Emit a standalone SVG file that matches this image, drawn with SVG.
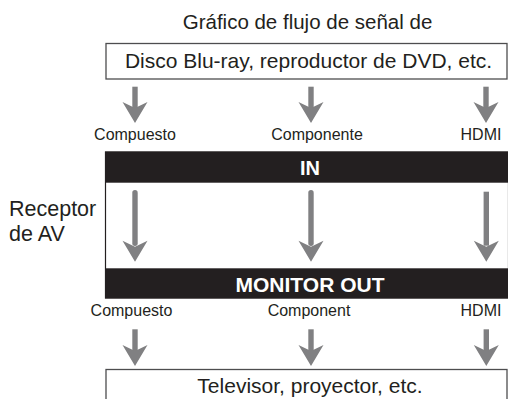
<svg xmlns="http://www.w3.org/2000/svg" width="508" height="399" viewBox="0 0 508 399">
<style>
text{font-family:"Liberation Sans",Arial,sans-serif;fill:#231f20}
.big{font-size:21px}
.lbl{font-size:16px}
.band{fill:#231f20}
.bt{font-weight:bold;fill:#fff;font-size:20px}
.box{fill:#fff;stroke:#4d4d4f;stroke-width:1.3}
.arr{fill:#808082}
</style>
<defs>
<path id="hd" d="M-12.5,0 L0,21 L12.5,0 L0,6 Z"/>
</defs>
<rect width="508" height="399" fill="#fff"/>
<text id="title" class="big" x="307.5" y="29" text-anchor="middle" style="font-size:20.5px">Gráfico de flujo de señal de</text>
<g id="source">
<rect class="box" x="106" y="43.5" width="401" height="35.5"/>
<text class="big" x="308.5" y="68" text-anchor="middle">Disco Blu-ray, reproductor de DVD, etc.</text>
</g>
<g id="receiver">
<rect x="105.5" y="152" width="403" height="146" fill="#fff" stroke="#231f20" stroke-width="1.2"/>
<rect class="band" x="105" y="151.7" width="403" height="31"/>
<text class="bt" x="310" y="175" text-anchor="middle">IN</text>
<rect class="band" x="105" y="268.3" width="403" height="30"/>
<text class="bt" x="310" y="291.5" text-anchor="middle" style="font-size:21px">MONITOR OUT</text>
</g>
<text id="recv-label" class="big" x="9" y="216" style="font-size:21.5px"><tspan x="9">Receptor</tspan><tspan x="9" y="241">de AV</tspan></text>
<g id="sink">
<rect class="box" x="106" y="369.5" width="401" height="40"/>
<text class="big" x="310" y="393" text-anchor="middle">Televisor, proyector, etc.</text>
</g>
<g id="labels">
<text class="lbl" x="135" y="140" text-anchor="middle">Compuesto</text>
<text class="lbl" x="317" y="140" text-anchor="middle">Componente</text>
<text class="lbl" x="481" y="140" text-anchor="middle">HDMI</text>
<text class="lbl" x="131.5" y="316" text-anchor="middle">Compuesto</text>
<text class="lbl" x="309" y="316" text-anchor="middle">Component</text>
<text class="lbl" x="481" y="316" text-anchor="middle">HDMI</text>
</g>
<g id="connectors" class="arr">
<rect x="132.3" y="86.7" width="5.4" height="22"/><use href="#hd" x="135" y="102"/>
<rect x="308.3" y="86.7" width="5.4" height="22"/><use href="#hd" x="311" y="102"/>
<rect x="483.3" y="86.7" width="5.4" height="22"/><use href="#hd" x="486" y="102"/>
<rect x="132.3" y="190" width="5.4" height="56" rx="2.7"/><use href="#hd" x="135" y="240.7"/>
<rect x="308.3" y="190" width="5.4" height="56" rx="2.7"/><use href="#hd" x="311" y="240.7"/>
<rect x="483.6" y="191.7" width="5.4" height="54"/><use href="#hd" x="486.3" y="240.7"/>
<rect x="132.3" y="329.3" width="5.4" height="22"/><use href="#hd" x="135" y="345"/>
<rect x="308.3" y="329.3" width="5.4" height="22"/><use href="#hd" x="311" y="345"/>
<rect x="483.6" y="329.3" width="5.4" height="22"/><use href="#hd" x="486.3" y="345"/>
</g>
</svg>
